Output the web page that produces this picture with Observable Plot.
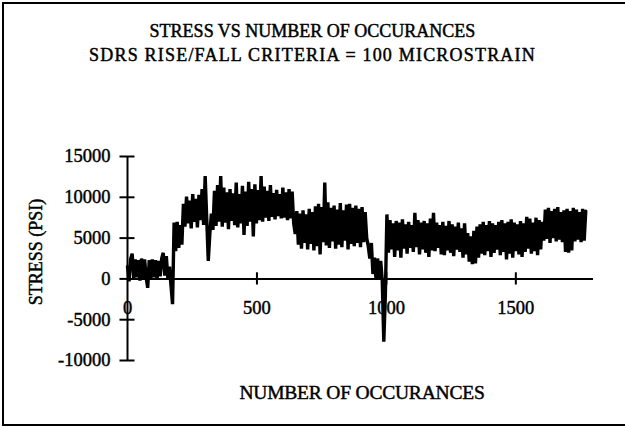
<!DOCTYPE html>
<html>
<head>
<meta charset="utf-8">
<script src="https://cdn.jsdelivr.net/npm/d3@7"></script>
<script src="https://cdn.jsdelivr.net/npm/@observablehq/plot@0.6"></script>
<style>
  html, body { margin: 0; padding: 0; background: #fff; }
  #wrap { position: relative; width: 625px; height: 427px; overflow: hidden; font-family: "Liberation Serif", "Times New Roman", serif; color: #000; }
  #wrap svg { position: absolute; left: 0; top: 0; }
  .frameL { position: absolute; left: 2px; top: 2px; width: 2px; height: 423px; background: #000; }
  .frameT { position: absolute; left: 2px; top: 2px; width: 623px; height: 2px; background: #000; }
  .frameB { position: absolute; left: 2px; top: 424px; width: 623px; height: 2px; background: #000; }
  .title { position: absolute; left: 0; width: 625px; text-align: center; font-size: 18px; line-height: 20px; white-space: nowrap; -webkit-text-stroke: 0.45px #000; }
  .xlabel { position: absolute; left: 112px; width: 500px; top: 382px; text-align: center; font-size: 19.5px; line-height: 22px; white-space: nowrap; -webkit-text-stroke: 0.45px #000; letter-spacing: -0.2px; }
  .ylabel { position: absolute; left: 36px; top: 252px; transform: translate(-50%, -50%) rotate(-90deg); font-size: 18px; line-height: 20px; white-space: nowrap; -webkit-text-stroke: 0.45px #000; }
</style>
</head>
<body>
<div id="wrap"></div>
<script>
// Chart text
const titleLines = ["STRESS VS NUMBER OF OCCURANCES", "SDRS RISE/FALL CRITERIA = 100 MICROSTRAIN"];
const xLabel = "NUMBER OF OCCURANCES";
const yLabel = "STRESS (PSI)";

// Tick values
const xTicks = [0, 500, 1000, 1500];
const yTicks = [-10000, -5000, 0, 5000, 10000, 15000];

// Occurrence spacing between successive readings
const sampleStep = 6;

// Stress readings (psi), one per sampleStep occurrences starting at 0
const stress = [
  // 0 - 162
  1500,-300,2400,3100,100,2400,200,2300,-200,2500,100,2400,200,-1100,2300,0,2400,200,2300,-100,2200,300,2500,3200,400,2800,0,1500,
  // 168 - 210
  -800,-3100,6900,3400,7000,3800,6600,4200,
  // 216 - 306
  9200,6400,10100,6800,9600,6200,10400,7000,9800,6300,10300,7200,11000,6600,12600,7400,
  // 312 - 330
  2200,5500,8000,6000,
  // 336 - 474
  10800,6500,11500,7000,12600,6400,11200,6900,10600,6100,11000,7100,10500,6600,11800,6300,10400,6800,11400,5400,10700,6500,11900,7000,
  // 480 - 642
  11000,5200,11600,6800,10900,7200,12600,7000,11300,7500,10800,7100,11500,7600,10500,7300,10900,7700,10400,7400,11200,7500,10600,7200,11000,7400,10700,6800,
  // 648 - 930
  5500,8300,4200,8000,3700,8400,4400,7900,3600,8600,4300,8200,3500,8900,4000,9200,3000,8800,4500,11800,
  4100,9400,3800,8700,4600,9000,3700,8500,4200,9300,3900,8400,4700,9100,3600,9200,4300,8700,4000,9000,
  4400,8600,3900,8800,4500,8200,5000,4000,
  // 936 - 1002
  2500,4400,600,2600,-100,2500,100,2200,-200,-7700,-2000,7900,
  // 1008 - 1440
  3200,7200,3600,6800,2700,7100,3500,6900,2600,7300,3700,6700,3100,7000,3800,6600,3300,8100,3900,7200,
  3000,6900,3600,7100,3200,6800,2700,7400,3500,8100,3400,6900,3800,6600,3000,7000,2900,6500,3500,7100,
  3200,6700,2800,6400,3600,6900,3300,6200,2600,6800,3000,5600,2100,5200,1800,5900,1900,6400,2600,6700,
  3100,7000,2900,6600,3400,7100,2700,6800,3200,6600,3600,7000,2900,
  // 1446 - 1602
  7200,3300,6800,2400,7000,3100,7300,2600,6900,3400,6700,3000,7100,2700,6800,3300,7600,3700,7400,3100,
  6900,3400,7500,2900,7200,3600,7000,
  // 1608 - 1770
  4700,8500,4900,8700,4400,8300,5000,8600,4600,8800,4800,8200,4500,8400,3300,8600,3200,8300,3500,8700,
  4600,8500,4800,8200,4500,8600,4700,8300
];

const series = stress.map((v, i) => ({occ: i * sampleStep, psi: v}));

const font = "Liberation Serif, Times New Roman, serif";

const chart = Plot.plot({
  width: 625,
  height: 427,
  marginLeft: 127,
  marginRight: 32,
  marginTop: 156,
  marginBottom: 67,
  style: {fontFamily: font, fontSize: "18px", background: "transparent", color: "#000"},
  x: {domain: [0, 1800], axis: null},
  y: {domain: [-10000, 15000], axis: null},
  marks: [
    Plot.ruleY([0], {stroke: "#000", strokeWidth: 2}),
    Plot.ruleX([0], {stroke: "#000", strokeWidth: 2}),
    Plot.ruleY(yTicks, {x1: -29, x2: 29, stroke: "#000", strokeWidth: 2}),
    Plot.ruleX(xTicks.filter(d => d !== 0), {y1: -750, y2: 750, stroke: "#000", strokeWidth: 2}),
    Plot.text(yTicks, {x: 0, y: d => d, text: d => String(d), textAnchor: "end", dx: -17, fontSize: 18.5, fill: "#000", stroke: "#000", strokeWidth: 0.45}),
    Plot.text(xTicks, {x: d => d, y: 0, text: d => String(d), dy: 29, fontSize: 18.5, fill: "#000", stroke: "#000", strokeWidth: 0.45}),
    Plot.line(series, {x: "occ", y: "psi", stroke: "#000", strokeWidth: 3.4, strokeLinejoin: "miter", strokeMiterlimit: 2})
  ]
});

const wrap = document.getElementById("wrap");
wrap.appendChild(chart);

for (const cls of ["frameL", "frameT", "frameB"]) {
  const d = document.createElement("div");
  d.className = cls;
  wrap.appendChild(d);
}
titleLines.forEach((t, i) => {
  const d = document.createElement("div");
  d.className = "title";
  d.style.top = (21 + i * 24) + "px";
  if (i === 1) d.style.letterSpacing = "1.2px";
  d.textContent = t;
  wrap.appendChild(d);
});
const xl = document.createElement("div");
xl.className = "xlabel";
xl.textContent = xLabel;
wrap.appendChild(xl);
const yl = document.createElement("div");
yl.className = "ylabel";
yl.textContent = yLabel;
wrap.appendChild(yl);
</script>
</body>
</html>
